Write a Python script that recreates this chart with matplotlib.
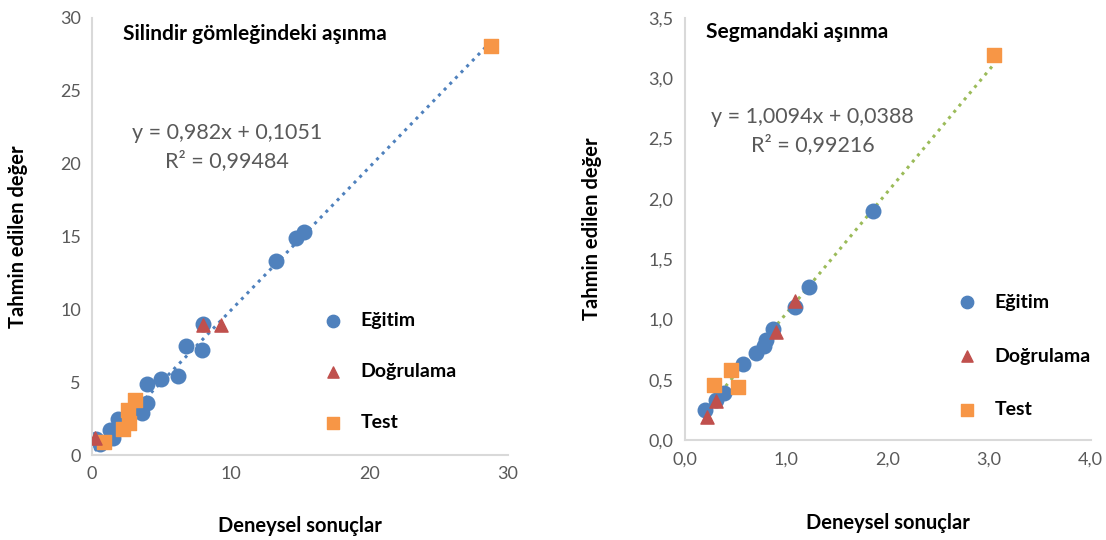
import matplotlib.pyplot as plt
import numpy as np
from matplotlib.ticker import FuncFormatter, MultipleLocator

plt.rcParams['font.family'] = ['Lato', 'DejaVu Sans']

# --- Silindir gömleği (left) ---
egitim1_x = [0.3, 0.6, 1.3, 1.5, 1.9, 3.6, 4.0, 4.0, 5.0, 6.2, 6.8, 7.9, 8.0, 13.3, 14.7, 15.3]
egitim1_y = [1.1, 0.8, 1.7, 1.2, 2.5, 2.9, 3.6, 4.9, 5.2, 5.4, 7.5, 7.2, 9.0, 13.3, 14.9, 15.3]
dogru1_x = [0.2, 8.0, 9.3]
dogru1_y = [1.2, 8.9, 8.9]
test1_x = [0.9, 2.2, 2.7, 2.6, 3.1, 28.8]
test1_y = [0.9, 1.8, 2.2, 3.1, 3.8, 28.1]
egim1, kesim1 = 0.982, 0.1051

# --- Segman (right) ---
egitim2_x = [0.20, 0.31, 0.39, 0.58, 0.70, 0.78, 0.80, 0.87, 1.09, 1.23, 1.86]
egitim2_y = [0.25, 0.33, 0.39, 0.63, 0.72, 0.78, 0.83, 0.92, 1.10, 1.27, 1.90]
dogru2_x = [0.22, 0.31, 0.90, 1.09]
dogru2_y = [0.19, 0.32, 0.90, 1.15]
test2_x = [0.29, 0.46, 0.53, 3.05]
test2_y = [0.46, 0.58, 0.44, 3.19]
egim2, kesim2 = 1.0094, 0.0388

mavi = '#4f81bd'
kirmizi = '#c0504d'
turuncu = '#f79646'
yesil = '#9bbb59'
gri = '#595959'

fig = plt.figure(figsize=(11.06, 5.4), dpi=100)
ax1 = fig.add_axes([0.0832, 0.157, 0.376, 0.81])
ax2 = fig.add_axes([0.619, 0.185, 0.367, 0.782])

virgul1 = FuncFormatter(lambda v, p: f"{v:.0f}")
virgul2 = FuncFormatter(lambda v, p: f"{v:.1f}".replace('.', ','))


def ciz(ax, ex, ey, dx, dy, tx, ty, egim, kesim, renk, xpad):
    xs = np.array(ex + dx + tx)
    xl = np.array([xs.min(), xs.max()])
    ax.plot(xl, egim * xl + kesim, ':', color=renk, lw=2.2, zorder=1)
    ax.scatter(ex, ey, s=110, color=mavi, marker='o', label='Eğitim', zorder=2)
    ax.scatter(dx, dy, s=90, color=kirmizi, marker='^', label='Doğrulama', zorder=3)
    ax.scatter(tx, ty, s=110, color=turuncu, marker='s', label='Test', zorder=2)
    for s in ['top', 'right']:
        ax.spines[s].set_visible(False)
    for s in ['left', 'bottom']:
        ax.spines[s].set_color('#d9d9d9')
        ax.spines[s].set_linewidth(1.5)
    ax.tick_params(length=0, labelsize=13, labelcolor=gri, pad=8)
    ax.set_ylabel('Tahmin edilen değer', fontsize=14.5, fontweight='bold')
    ax.set_xlabel('Deneysel sonuçlar', fontsize=14.5, fontweight='bold', labelpad=xpad)


ciz(ax1, egitim1_x, egitim1_y, dogru1_x, dogru1_y, test1_x, test1_y, egim1, kesim1, mavi, 24)
ax1.set_xlim(0, 30)
ax1.set_ylim(0, 30)
ax1.xaxis.set_major_locator(MultipleLocator(10))
ax1.yaxis.set_major_locator(MultipleLocator(5))
ax1.xaxis.set_major_formatter(virgul1)
ax1.yaxis.set_major_formatter(virgul1)
ax1.text(0.075, 0.985, 'Silindir gömleğindeki aşınma', transform=ax1.transAxes,
         fontsize=15, fontweight='bold', va='top')
ax1.text(0.325, 0.705, 'y = 0,982x + 0,1051\nR² = 0,99484', transform=ax1.transAxes,
         fontsize=15.5, color=gri, ha='center', va='center', linespacing=1.45)
ax1.legend(loc='upper left', bbox_to_anchor=(0.51, 0.35), frameon=False,
           labelspacing=1.75, handletextpad=0.4, borderpad=0, markerscale=0.85,
           prop={'size': 14, 'weight': 'bold'})
ax1.yaxis.set_label_coords(-0.155, 0.5)

ciz(ax2, egitim2_x, egitim2_y, dogru2_x, dogru2_y, test2_x, test2_y, egim2, kesim2, yesil, 33)
ax2.set_xlim(0, 4)
ax2.set_ylim(0, 3.5)
ax2.xaxis.set_major_locator(MultipleLocator(1))
ax2.yaxis.set_major_locator(MultipleLocator(0.5))
ax2.xaxis.set_major_formatter(virgul2)
ax2.yaxis.set_major_formatter(virgul2)
ax2.text(0.053, 0.99, 'Segmandaki aşınma', transform=ax2.transAxes,
         fontsize=15, fontweight='bold', va='top')
ax2.text(0.315, 0.732, 'y = 1,0094x + 0,0388\nR² = 0,99216', transform=ax2.transAxes,
         fontsize=15.5, color=gri, ha='center', va='center', linespacing=1.45)
ax2.legend(loc='upper left', bbox_to_anchor=(0.625, 0.37), frameon=False,
           labelspacing=1.9, handletextpad=0.4, borderpad=0, markerscale=0.85,
           prop={'size': 14, 'weight': 'bold'})
ax2.yaxis.set_label_coords(-0.203, 0.5)

fig.savefig('out.png', dpi=100)
